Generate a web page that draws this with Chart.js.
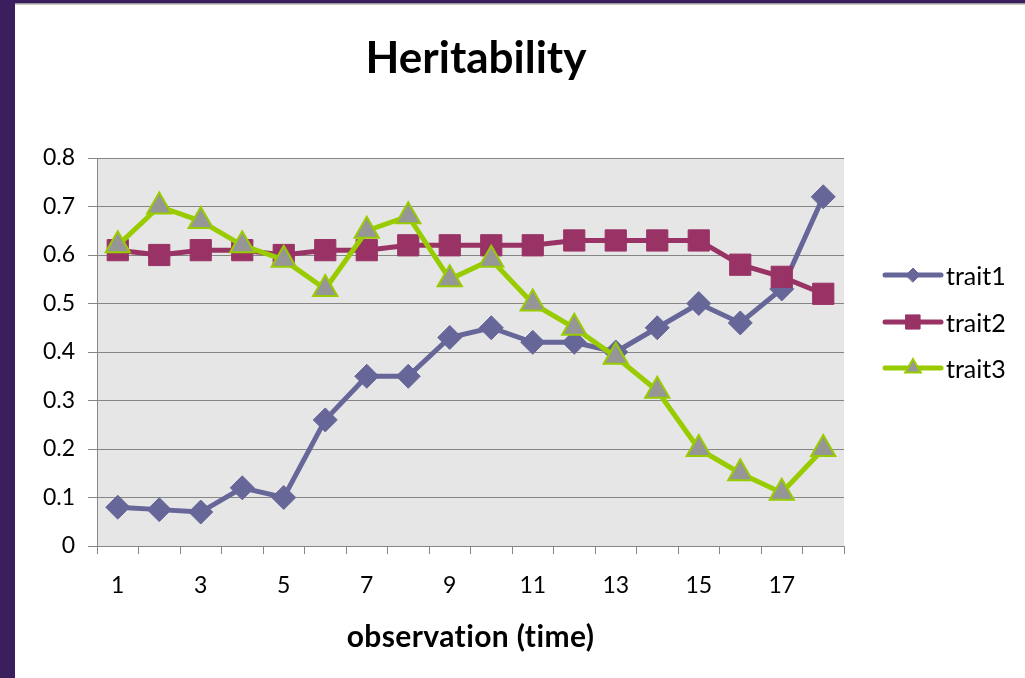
<!DOCTYPE html>
<html>
<head>
<meta charset="utf-8">
<script src="https://cdn.jsdelivr.net/npm/chart.js@4.4.1/dist/chart.umd.min.js"></script>
<style>
  html, body { margin: 0; padding: 0; background: #ffffff; }
  canvas { display: block; }
</style>
</head>
<body>
<canvas id="c" width="1025" height="678"></canvas>
<script>
// ---- data ----
const categories = ['1','2','3','4','5','6','7','8','9','10','11','12','13','14','15','16','17','18'];
const seriesNames = ['trait1', 'trait2', 'trait3'];
const trait1 = [0.08, 0.075, 0.07, 0.12, 0.10, 0.26, 0.35, 0.35, 0.43, 0.45, 0.42, 0.42, 0.40, 0.45, 0.50, 0.46, 0.53, 0.72];
const trait2 = [0.61, 0.60, 0.61, 0.61, 0.60, 0.61, 0.61, 0.62, 0.62, 0.62, 0.62, 0.63, 0.63, 0.63, 0.63, 0.58, 0.555, 0.52];
const trait3 = [0.62, 0.70, 0.67, 0.62, 0.59, 0.53, 0.65, 0.68, 0.55, 0.59, 0.50, 0.45, 0.39, 0.32, 0.20, 0.15, 0.11, 0.20];
const yMin = 0, yMax = 0.8, yStep = 0.1;
const chartTitle = 'Heritability';
const xTitle = 'observation (time)';

const FONT = 'Lato, "Open Sans", sans-serif';
const GRID = '#868686';

const framePlugin = {
  id: 'frame',
  beforeDraw(chart) {
    const ctx = chart.ctx;
    const W = chart.width, H = chart.height;
    ctx.save();
    ctx.fillStyle = '#3b1e5d';
    ctx.fillRect(0, 0, W, H);
    ctx.fillStyle = '#ffffff';
    ctx.fillRect(15, 4, W - 15, H - 4);
    ctx.fillStyle = '#9a9a9a';
    ctx.fillRect(15, 3, W - 15, 1.5);
    const a = chart.chartArea;
    ctx.fillStyle = '#e6e6e6';
    ctx.fillRect(a.left, a.top, a.right - a.left, a.bottom - a.top);
    ctx.restore();
  },
  afterDraw(chart) {
    const ctx = chart.ctx;
    const a = chart.chartArea;
    ctx.save();
    ctx.fillStyle = '#000000';
    ctx.textAlign = 'center';
    ctx.textBaseline = 'alphabetic';
    ctx.font = 'bold 44px ' + FONT;
    ctx.fillText(chartTitle, 476, 73);
    ctx.font = 'bold 30px ' + FONT;
    if ('letterSpacing' in ctx) ctx.letterSpacing = '0.4px';
    ctx.fillText(xTitle, (a.left + a.right) / 2, 647);
    if ('letterSpacing' in ctx) ctx.letterSpacing = '0px';

    // legend: line + marker + label
    const rows = [275, 322, 368];
    const legendRadius = [7, 10, 9];
    chart.data.datasets.forEach((ds, i) => {
      const y = rows[i];
      ctx.strokeStyle = ds.borderColor;
      ctx.lineWidth = 5;
      ctx.lineCap = 'round';
      ctx.beginPath();
      ctx.moveTo(885, y);
      ctx.lineTo(941, y);
      ctx.stroke();
      ctx.fillStyle = ds.pointBackgroundColor;
      ctx.strokeStyle = ds.pointBorderColor;
      ctx.lineWidth = ds.pointBorderWidth;
      Chart.helpers.drawPoint(ctx, {
        pointStyle: ds.pointStyle,
        radius: legendRadius[i],
        rotation: 0,
        borderWidth: ds.pointBorderWidth
      }, 913, y);
      ctx.fillStyle = '#000000';
      ctx.font = '25px ' + FONT;
      ctx.textAlign = 'left';
      ctx.textBaseline = 'middle';
      ctx.fillText(ds.label, 946, y + 2);
    });
    ctx.restore();
  }
};

new Chart(document.getElementById('c'), {
  type: 'line',
  data: {
    labels: categories,
    datasets: [
      {
        label: seriesNames[0], data: trait1, order: 3,
        borderColor: '#666699', backgroundColor: '#666699',
        pointBackgroundColor: '#666699', pointBorderColor: '#666699',
        borderWidth: 5, pointStyle: 'rectRot', pointRadius: 12, pointBorderWidth: 1,
        tension: 0
      },
      {
        label: seriesNames[1], data: trait2, order: 2,
        borderColor: '#993366', backgroundColor: '#993366',
        pointBackgroundColor: '#993366', pointBorderColor: '#993366',
        borderWidth: 5, pointStyle: 'rect', pointRadius: 15, pointBorderWidth: 1,
        tension: 0
      },
      {
        label: seriesNames[2], data: trait3, order: 1,
        borderColor: '#99cc00', backgroundColor: '#969696',
        pointBackgroundColor: '#969696', pointBorderColor: '#99cc00',
        borderWidth: 5, pointStyle: 'triangle', pointRadius: 14, pointBorderWidth: 2,
        tension: 0
      }
    ]
  },
  options: {
    responsive: false,
    animation: false,
    devicePixelRatio: 1,
    layout: { padding: { left: 15, top: 158, right: 181, bottom: 0 } },
    plugins: {
      legend: { display: false },
      title: { display: false },
      tooltip: { enabled: false }
    },
    scales: {
      x: {
        type: 'category',
        offset: true,
        afterFit(scale) { scale.height = 132; },
        grid: { offset: true, drawOnChartArea: false, drawTicks: true, tickLength: 8, color: GRID, tickColor: GRID, lineWidth: 1 },
        border: { display: true, color: GRID, width: 1 },
        ticks: {
          autoSkip: false, maxRotation: 0, padding: 18, color: '#000000',
          font: { family: FONT, size: 23 },
          callback: function(v, i) { return i % 2 === 0 ? categories[i] : ''; }
        }
      },
      y: {
        min: yMin, max: yMax,
        afterFit(scale) { scale.width = 82; },
        grid: { drawTicks: true, tickLength: 9, color: GRID, tickColor: GRID, lineWidth: 1 },
        border: { display: true, color: GRID, width: 1 },
        ticks: {
          stepSize: yStep, padding: 13, color: '#000000',
          font: { family: FONT, size: 23 }
        }
      }
    }
  },
  plugins: [framePlugin]
});
</script>
</body>
</html>
